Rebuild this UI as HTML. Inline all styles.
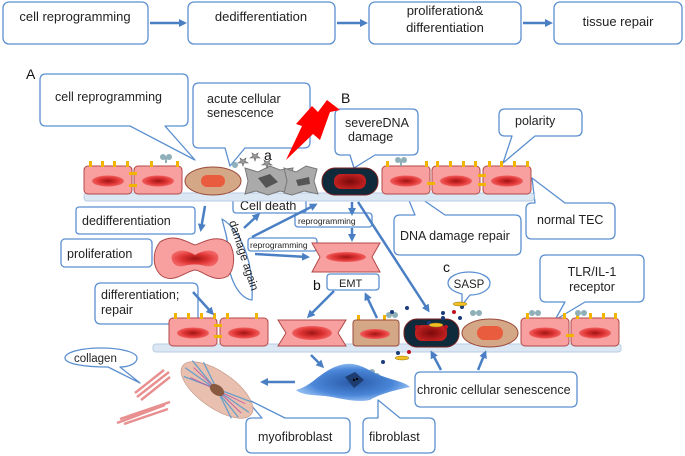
<!DOCTYPE html>
<html><head><meta charset="utf-8"><style>
html,body{margin:0;padding:0;background:#fff;}
svg{display:block;font-family:"Liberation Sans",sans-serif;}
</style></head><body>
<svg width="685" height="456" viewBox="0 0 685 456" xmlns="http://www.w3.org/2000/svg">
<defs>
<radialGradient id="nuc"><stop offset="0" stop-color="#a01515"/><stop offset="0.6" stop-color="#e03535"/><stop offset="1" stop-color="#f06060"/></radialGradient>
<radialGradient id="dk"><stop offset="0" stop-color="#7a0a0a"/><stop offset="1" stop-color="#c02020"/></radialGradient>
<radialGradient id="fib"><stop offset="0" stop-color="#2a5aa8"/><stop offset="0.7" stop-color="#4a86d8"/><stop offset="1" stop-color="#8ab6ee"/></radialGradient>
<marker id="ar" markerWidth="8" markerHeight="8" refX="5" refY="4" orient="auto" markerUnits="userSpaceOnUse"><path d="M0,0 L8,4 L0,8 Z" fill="#4a7fc4"/></marker>
<g id="pink">
<rect x="0" y="0" width="48" height="28" rx="4" fill="#f8a0a0" stroke="#b04848" stroke-width="1"/>
<ellipse cx="24" cy="15" rx="16" ry="5.5" fill="url(#nuc)"/>
</g>
</defs>
<g fill="#fff" stroke="#5b8fd0" stroke-width="1.3">
<rect x="3" y="2" width="145" height="42" rx="6"/>
<rect x="188" y="2" width="147" height="42" rx="6"/>
<rect x="369" y="2" width="152" height="42" rx="6"/>
<rect x="554" y="2" width="128" height="42" rx="6"/>
</g>
<g stroke="#4a7fc4" stroke-width="2.5" fill="none" marker-end="url(#ar)">
<line x1="150" y1="23" x2="184" y2="23"/>
<line x1="337" y1="23" x2="365" y2="23"/>
<line x1="523" y1="23" x2="550" y2="23"/>
</g>
<g font-size="13" fill="#222" text-anchor="middle">
<text x="75" y="21">cell reprogramming</text>
<text x="261" y="21">dedifferentiation</text>
<text x="445" y="15">proliferation&amp;</text>
<text x="445" y="32">differentiation</text>
<text x="618" y="26">tissue repair</text>
</g>
<text x="26" y="79" font-size="14" fill="#111">A</text>
<text x="341" y="103" font-size="14" fill="#111">B</text>
<text x="264" y="160" font-size="14" fill="#111">a</text>
<text x="443" y="272" font-size="14" fill="#111">c</text>
<text x="313" y="290" font-size="14" fill="#111">b</text>

<!-- callouts -->
<g fill="#fff" stroke="#5b8fd0" stroke-width="1.3" stroke-linejoin="round">
<path d="M46,74 H182 Q188,74 188,80 V120 Q188,126 182,126 H165 L195,160 L130,126 H46 Q40,126 40,120 V80 Q40,74 46,74 Z"/>
<path d="M199,83 H304 Q310,83 310,89 V142 Q310,148 304,148 H245 L230,166 L225,148 H199 Q193,148 193,142 V89 Q193,83 199,83 Z"/>
<path d="M341,109 H412 Q418,109 418,115 V149 Q418,155 412,155 H375 L354,168 L350,155 H341 Q335,155 335,149 V115 Q335,109 341,109 Z"/>
<path d="M505,109 H576 Q582,109 582,115 V130 Q582,136 576,136 H535 L503,163 L512,136 H505 Q499,136 499,130 V115 Q499,109 505,109 Z"/>
<path d="M400,215 H415 L403,186 L445,215 H515 Q521,215 521,221 V249 Q521,255 515,255 H400 Q394,255 394,249 V221 Q394,215 400,215 Z"/>
<path d="M532,203 H535 L532,178 L565,203 H609 Q615,203 615,209 V233 Q615,239 609,239 H532 Q526,239 526,233 V209 Q526,203 532,203 Z"/>
<path d="M546,255 H638 Q644,255 644,261 V296 Q644,302 638,302 H585 L555,320 L565,302 H546 Q540,302 540,296 V261 Q540,255 546,255 Z"/>
<path d="M101,283 H192 Q198,283 198,289 V318 Q198,324 192,324 H101 Q95,324 95,318 V289 Q95,283 101,283 Z"/>
<path d="M252,418 H262 L245,398 L285,418 H344 Q350,418 350,424 V447 Q350,453 344,453 H252 Q246,453 246,447 V424 Q246,418 252,418 Z"/>
<path d="M369,418 H378 L378,400 L400,418 H429 Q435,418 435,424 V447 Q435,453 429,453 H369 Q363,453 363,447 V424 Q363,418 369,418 Z"/>
<path d="M421,372 H571 Q577,372 577,378 V401 Q577,407 571,407 H421 Q415,407 415,401 V378 Q415,372 421,372 Z"/>
<rect x="76" y="207" width="119" height="27" rx="3"/>
<rect x="61" y="239" width="91" height="28" rx="4"/>
<rect x="233" y="196" width="73" height="17" rx="3"/>
<rect x="295" y="213" width="77" height="14" rx="3"/>
<rect x="248" y="238" width="69" height="13" rx="3"/>
<rect x="327" y="274" width="52" height="16" rx="3"/>
<path d="M101,348 C120,348 137,352 137,358 C137,364 128,367 120,367 L140,383 L108,367 C85,367 65,364 65,358 C65,352 82,348 101,348 Z"/>
<path d="M469,272 C481,272 490,277 490,283 C490,290 481,295 470,295 L462,305 L462,294 C454,292 448,288 448,283 C448,277 457,272 469,272 Z"/>
<path d="M222,219 C240,230 254,260 252,300 C236,298 226,270 228,250 C228,238 224,228 222,219 Z"/>
</g>
<g font-size="12.5" fill="#222">
<text x="55" y="101">cell reprogramming</text>
<text x="207" y="103">acute cellular</text>
<text x="207" y="117">senescence</text>
<text x="345" y="127">severe<tspan>DNA</tspan></text>
<text x="348" y="141">damage</text>
<text x="515" y="125">polarity</text>
<text x="400" y="240">DNA damage repair</text>
<text x="537" y="224">normal TEC</text>
<text x="592" y="276" text-anchor="middle">TLR/IL-1</text>
<text x="592" y="291" text-anchor="middle">receptor</text>
<text x="101" y="299">differentiation;</text>
<text x="101" y="314">repair</text>
<text x="258" y="441">myofibroblast</text>
<text x="369" y="441">fibroblast</text>
<text x="417" y="394">chronic cellular senescence</text>
<text x="82" y="225">dedifferentiation</text>
<text x="67" y="258">proliferation</text>
<text x="240" y="210">Cell death</text>
<text x="339" y="287" font-size="11">EMT</text>
<text x="74" y="362" font-size="11.5">collagen</text>
<text x="469" y="288" font-size="11.5" text-anchor="middle">SASP</text>
</g>
<g font-size="8.5" fill="#222">
<text x="298" y="224">reprogramming</text>
<text x="250" y="248">reprogramming</text>
</g>
<text font-size="11.5" fill="#222" transform="translate(229,222) rotate(72)">damage again</text>

<!-- membranes -->
<rect x="84" y="193" width="450" height="8" rx="3" fill="#dbe8f4" stroke="#b8cde4"/>
<rect x="153" y="344" width="468" height="8" rx="3" fill="#dbe8f4" stroke="#b8cde4"/>

<!-- top cells -->
<use href="#pink" x="84" y="166"/>
<use href="#pink" x="134" y="166"/>
<use href="#pink" x="382" y="166"/>
<use href="#pink" x="432" y="166"/>
<use href="#pink" x="483" y="166"/>
<g fill="#f2b400">
<rect x="89" y="161" width="3" height="6"/><rect x="101" y="161" width="3" height="6"/><rect x="113" y="161" width="3" height="6"/><rect x="126" y="161" width="3" height="6"/>
<rect x="150" y="161" width="3" height="6"/><rect x="176" y="161" width="3" height="6"/>
<rect x="386" y="161" width="3" height="6"/><rect x="425" y="161" width="3" height="6"/>
<rect x="436" y="161" width="3" height="6"/><rect x="449" y="161" width="3" height="6"/><rect x="462" y="161" width="3" height="6"/><rect x="474" y="161" width="3" height="6"/>
<rect x="488" y="161" width="3" height="6"/><rect x="500" y="161" width="3" height="6"/><rect x="513" y="161" width="3" height="6"/><rect x="526" y="161" width="3" height="6"/>
<rect x="129" y="172" width="8" height="3"/><rect x="129" y="184" width="8" height="3"/>
<rect x="427" y="182" width="8" height="3"/><rect x="478" y="174" width="8" height="3"/><rect x="478" y="183" width="8" height="3"/>
</g>
<ellipse cx="213" cy="181" rx="28" ry="14" fill="#d4a786" stroke="#9a4a3a"/>
<rect x="201" y="175" width="24" height="12" rx="6" fill="#ea5c3e"/>
<path d="M245,168 L258,172 L270,166 L280,170 L293,168 L290,180 L294,194 L280,191 L268,195 L256,191 L245,194 L248,181 Z" fill="#aaa" stroke="#777"/>
<path d="M258,178 L270,174 L278,182 L266,188 Z" fill="#555"/>
<path d="M284,168 L296,172 L306,166 L317,169 L314,181 L318,194 L304,191 L292,195 L284,193 L287,181 Z" fill="#aaa" stroke="#777"/>
<path d="M296,180 L309,177 L310,184 L298,186 Z" fill="#555"/>
<g fill="#999" stroke="#666" stroke-width="0.6">
<path d="M240,158 l3,2 l3,-2 l-1,3 l3,2 l-4,0 l-1,3 l-1,-3 l-4,0 l3,-2 Z"/>
<path d="M252,153 l3,2 l3,-2 l-1,3 l3,2 l-4,0 l-1,3 l-1,-3 l-4,0 l3,-2 Z"/>
<path d="M264,160 l3,2 l3,-2 l-1,3 l3,2 l-4,0 l-1,3 l-1,-3 l-4,0 l3,-2 Z"/>
</g>
<rect x="322" y="168" width="56" height="27" rx="13" fill="#0f2a3a" stroke="#7a2020"/>
<rect x="334" y="174" width="32" height="15" rx="7" fill="url(#dk)"/>
<g fill="#8fb0b8"><circle cx="398" cy="160" r="3"/><circle cx="404" cy="160" r="3"/><rect x="400" y="160" width="2" height="6"/>
<circle cx="163" cy="157" r="3"/><circle cx="169" cy="157" r="3"/><rect x="165" y="157" width="2" height="6"/>
<circle cx="235" cy="165" r="3"/></g>

<!-- lightning -->
<path d="M286,160 L302,126 L296,124 L312,106 L318,112 L327,100 L340,110 L330,112 L320,140 L313,134 Z" fill="#f00"/>

<!-- middle cells -->
<path d="M160,242 C175,232 190,244 195,245 C200,244 218,232 230,244 C236,256 234,270 228,276 C214,284 202,270 195,270 C188,270 174,284 162,276 C152,268 152,252 160,242 Z" fill="#f8a0a0" stroke="#b04848"/>
<path d="M172,255 C180,247 190,252 195,255 C200,252 212,247 218,255 C220,262 214,268 205,266 C200,264 190,264 184,266 C176,268 170,262 172,255 Z" fill="url(#nuc)"/>
<path d="M312,243 H380 L372,257 L380,272 H312 L320,257 Z" fill="#f8a0a0" stroke="#b04848"/>
<ellipse cx="346" cy="257" rx="20" ry="5" fill="url(#nuc)"/>

<!-- bottom row -->
<use href="#pink" x="169" y="318"/>
<use href="#pink" x="220" y="318"/>
<use href="#pink" x="521" y="318"/>
<use href="#pink" x="571" y="318"/>
<g fill="#f2b400">
<rect x="174" y="313" width="3" height="6"/><rect x="187" y="313" width="3" height="6"/><rect x="200" y="313" width="3" height="6"/><rect x="213" y="313" width="3" height="6"/>
<rect x="226" y="313" width="3" height="6"/><rect x="255" y="313" width="3" height="6"/>
<rect x="526" y="313" width="3" height="6"/><rect x="563" y="313" width="3" height="6"/>
<rect x="576" y="313" width="3" height="6"/><rect x="589" y="313" width="3" height="6"/><rect x="602" y="313" width="3" height="6"/><rect x="614" y="313" width="3" height="6"/>
<rect x="214" y="324" width="8" height="3"/><rect x="214" y="335" width="8" height="3"/><rect x="566" y="334" width="8" height="3"/>
<rect x="357" y="315" width="3" height="6"/><rect x="383" y="315" width="3" height="6"/>
</g>
<path d="M278,320 H346 L338,333 L346,346 H278 L286,333 Z" fill="#f8a0a0" stroke="#b04848"/>
<ellipse cx="312" cy="333" rx="20" ry="7" fill="url(#nuc)"/>
<rect x="353" y="320" width="46" height="26" rx="3" fill="#d4a786" stroke="#9a4a3a"/>
<ellipse cx="375" cy="334" rx="15" ry="5" fill="url(#nuc)"/>
<rect x="404" y="319" width="55" height="28" rx="13" fill="#0f2a3a" stroke="#7a2020"/>
<rect x="415" y="325" width="32" height="16" rx="7" fill="url(#dk)"/>
<ellipse cx="490" cy="333" rx="28" ry="14" fill="#d4a786" stroke="#9a4a3a"/>
<rect x="477" y="326" width="26" height="14" rx="7" fill="#ea5c3e"/>
<g fill="#8fb0b8"><circle cx="389" cy="315" r="3"/><circle cx="395" cy="315" r="3"/>
<circle cx="473" cy="313" r="3"/><circle cx="479" cy="313" r="3"/>
<circle cx="532" cy="313" r="3"/><circle cx="538" cy="313" r="3"/>
<circle cx="578" cy="313" r="3"/><circle cx="584" cy="313" r="3"/>
<circle cx="372" cy="372" r="3"/><circle cx="377" cy="376" r="3"/></g>
<g fill="#1a3a7a">
<circle cx="392" cy="312" r="2"/><circle cx="407" cy="308" r="2"/><circle cx="443" cy="313" r="2"/><circle cx="462" cy="307" r="2"/><circle cx="443" cy="318" r="2"/><circle cx="460" cy="318" r="2"/><circle cx="398" cy="353" r="2"/><circle cx="383" cy="362" r="2"/><circle cx="429" cy="323" r="2"/>
</g>
<g fill="#c01020"><circle cx="454" cy="312" r="2"/><circle cx="409" cy="352" r="2"/><circle cx="417" cy="327" r="2"/><circle cx="446" cy="327" r="2"/></g>
<g fill="#f2c020" stroke="#8a7020" stroke-width="0.5"><ellipse cx="460" cy="304" rx="7" ry="2"/><ellipse cx="402" cy="358" rx="7" ry="2"/><ellipse cx="436" cy="325" rx="7" ry="2"/></g>

<!-- fibroblast -->
<path d="M296,390 C315,385 322,368 345,364 C360,362 370,372 382,376 C392,380 405,382 410,387 C395,390 380,394 370,400 C355,403 340,398 325,396 C312,395 302,395 296,390 Z" fill="url(#fib)"/>
<path d="M345,377 L355,372 L364,380 L354,388 Z" fill="#1d3c70"/>
<circle cx="354" cy="380" r="1.2" fill="#000"/><circle cx="357" cy="379" r="1.2" fill="#000"/>
<!-- myofibroblast -->
<g transform="rotate(35 217 390)">
<ellipse cx="217" cy="390" rx="42" ry="18" fill="#e9c0b0" stroke="#c09080" stroke-width="0.6"/>
<g stroke="#6aa0c8" stroke-width="1.3"><line x1="180" y1="380" x2="250" y2="400"/><line x1="182" y1="398" x2="252" y2="380"/><line x1="190" y1="375" x2="245" y2="405"/><line x1="178" y1="390" x2="256" y2="390"/></g>
<g stroke="#c050a0" stroke-width="0.8"><line x1="185" y1="385" x2="250" y2="395"/><line x1="188" y1="395" x2="248" y2="385"/></g>
<ellipse cx="217" cy="390" rx="8" ry="5" fill="#8a5a40"/>
</g>
<!-- collagen -->
<g stroke="#e89090" stroke-width="2.5" fill="none">
<line x1="137" y1="397" x2="169" y2="372"/><line x1="141" y1="400" x2="170" y2="377"/><line x1="135" y1="393" x2="164" y2="370"/>
<line x1="117" y1="423" x2="165" y2="405"/><line x1="120" y1="419" x2="170" y2="402"/><line x1="124" y1="424" x2="168" y2="409"/>
</g>

<!-- arrows -->
<g stroke="#4a7fc4" stroke-width="2.5" fill="none" marker-end="url(#ar)">
<line x1="205" y1="206" x2="201" y2="229"/>
<line x1="244" y1="228" x2="258" y2="215"/>
<line x1="252" y1="237" x2="315" y2="205"/>
<line x1="255" y1="254" x2="307" y2="257"/>
<line x1="352" y1="202" x2="352" y2="213"/>
<line x1="352" y1="228" x2="352" y2="239"/>
<line x1="358" y1="202" x2="428" y2="310"/>
<line x1="193" y1="292" x2="212" y2="313"/>
<line x1="334" y1="291" x2="309" y2="316"/>
<line x1="377" y1="318" x2="366" y2="295"/>
<line x1="311" y1="355" x2="322" y2="366"/>
<line x1="295" y1="382" x2="263" y2="382"/>
<line x1="441" y1="370" x2="432" y2="353"/>
<line x1="478" y1="370" x2="485" y2="353"/>
</g>
</svg>
</body></html>
